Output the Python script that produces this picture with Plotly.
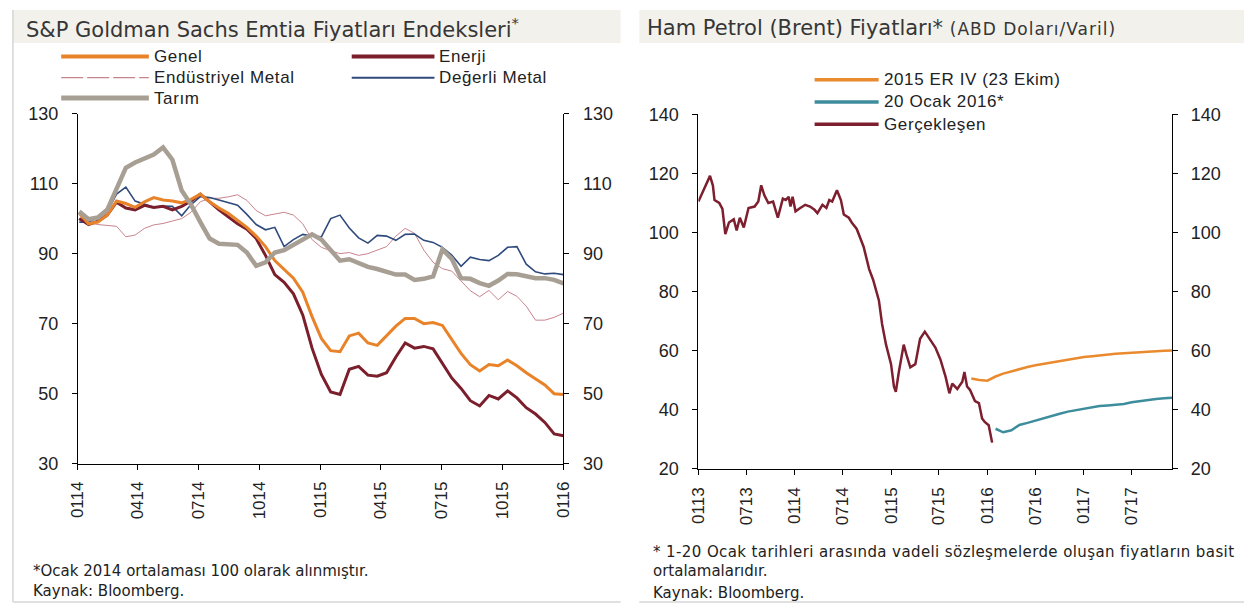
import pandas as pd
import plotly.graph_objects as go

W, H = 1254, 615


def px(x):
    return x / W


def py(y):
    return 1 - y / H


# ---------------- Left chart: S&P GSCI sub-indices (Jan 2014 = 100), biweekly ----------------
idx_dates = pd.date_range("2014-01-03", periods=53, freq="14D")

genel = [101.5, 98.5, 99.0, 101.0, 105.0, 104.3, 103.2, 104.8, 106.0, 105.3, 105.0, 104.5, 105.5,
         107.0, 104.8, 103.0, 101.5, 99.5, 97.5, 95.0, 92.0, 88.0, 85.5, 83.0, 79.0, 72.0, 65.8,
         62.3, 62.0, 66.5, 67.3, 64.5, 63.8, 66.5, 69.3, 71.5, 71.5, 70.0, 70.3, 69.5, 65.3, 61.5,
         58.3, 56.5, 58.3, 58.0, 59.6, 58.0, 56.0, 54.2, 52.5, 50.0, 49.8]

enerji = [100.0, 98.3, 99.3, 101.0, 104.7, 103.0, 102.5, 103.8, 103.2, 103.5, 102.5, 103.5, 105.0,
          107.0, 104.8, 102.5, 100.5, 98.5, 97.0, 94.3, 89.5, 84.0, 81.8, 78.5, 72.5, 63.0, 55.5,
          50.5, 49.8, 57.0, 57.8, 55.3, 55.0, 56.0, 60.5, 64.5, 63.0, 63.5, 62.8, 58.5, 54.5, 51.5,
          48.0, 46.5, 49.5, 48.5, 50.8, 48.8, 46.0, 44.2, 41.8, 38.5, 38.0]

endustriyel = [99.6, 98.8, 98.3, 98.0, 97.8, 94.8, 95.3, 97.2, 98.2, 98.6, 99.4, 100.0, 101.8,
               104.8, 105.8, 105.8, 106.2, 106.8, 105.2, 102.3, 100.8, 101.4, 101.8, 101.0, 98.5,
               94.0, 91.8, 90.8, 90.0, 90.3, 89.5, 90.0, 91.0, 92.0, 95.0, 97.2, 95.8, 91.0, 87.5,
               85.7, 85.0, 82.2, 79.4, 77.7, 79.5, 76.8, 79.2, 77.8, 75.0, 71.0, 71.0, 71.8, 73.0]

degerli = [99.0, 99.0, 100.3, 102.0, 107.0, 109.0, 105.0, 104.2, 103.2, 103.6, 103.5, 100.8, 104.0,
           106.3, 106.0, 105.3, 104.5, 103.8, 101.2, 98.3, 96.8, 97.5, 92.0, 94.0, 95.5, 95.0, 94.8,
           100.0, 101.0, 97.3, 94.5, 93.0, 95.2, 95.0, 93.8, 95.5, 95.6, 93.8, 93.2, 91.8, 89.6,
           86.4, 89.0, 88.3, 88.0, 89.5, 91.8, 92.0, 87.0, 84.8, 84.2, 84.4, 84.0]

tarim = [102.0, 99.8, 100.3, 102.5, 108.5, 114.5, 116.0, 117.0, 118.3, 120.3, 116.8, 108.0, 104.0,
         99.0, 94.3, 92.8, 92.8, 92.5, 90.3, 86.5, 87.5, 90.3, 91.0, 92.4, 93.8, 95.5, 94.0, 91.0,
         88.0, 88.4, 87.3, 86.2, 85.6, 84.8, 84.0, 84.0, 82.5, 82.8, 83.5, 91.2, 88.5, 83.0, 82.8,
         81.6, 80.8, 82.3, 84.2, 84.1, 83.6, 83.0, 83.0, 82.5, 81.5]

left_ticks = pd.date_range("2014-01-01", "2016-01-01", freq="QS")
left_ticktext = [d.strftime("%m%y") for d in left_ticks]
left_yticks = [30, 50, 70, 90, 110, 130]

# ---------------- Right chart: Brent (USD/bbl) ----------------
brent_dates = ["2013-01-01", "2013-01-19", "2013-02-14", "2013-02-25", "2013-03-03", "2013-03-21",
               "2013-04-02", "2013-04-13", "2013-04-27", "2013-05-15", "2013-05-26", "2013-06-07",
               "2013-06-22", "2013-07-10", "2013-08-02", "2013-08-16", "2013-08-27", "2013-09-08",
               "2013-09-23", "2013-10-11", "2013-10-29", "2013-11-17", "2013-11-28", "2013-12-09",
               "2013-12-16", "2013-12-24", "2014-01-04", "2014-01-22", "2014-02-10", "2014-02-28",
               "2014-03-17", "2014-03-28", "2014-04-16", "2014-05-01", "2014-05-12", "2014-05-23",
               "2014-06-10", "2014-06-25", "2014-07-06", "2014-07-25", "2014-08-05", "2014-08-24",
               "2014-09-08", "2014-09-19", "2014-10-10", "2014-10-25", "2014-11-16", "2014-11-28",
               "2014-12-13", "2015-01-01", "2015-01-12", "2015-01-19", "2015-01-31", "2015-02-18",
               "2015-02-28", "2015-03-15", "2015-04-03", "2015-04-21", "2015-05-09", "2015-05-27",
               "2015-06-18", "2015-07-07", "2015-07-27", "2015-08-10", "2015-08-21", "2015-09-09",
               "2015-09-28", "2015-10-06", "2015-10-16", "2015-10-27", "2015-11-15", "2015-11-30",
               "2015-12-12", "2015-12-22", "2016-01-06", "2016-01-19"]
brent_actual = [110.5, 114.3, 119.2, 115.9, 111.0, 110.0, 108.0, 99.5, 103.4, 104.5, 100.7, 105.0,
                101.7, 108.3, 108.8, 110.5, 116.0, 112.6, 110.0, 110.5, 105.0, 111.5, 111.0, 112.1,
                108.8, 112.1, 107.2, 108.3, 109.4, 108.8, 107.7, 106.6, 109.4, 108.3, 111.0, 110.5,
                114.3, 111.0, 106.1, 105.0, 103.4, 101.2, 97.4, 95.2, 87.6, 84.0, 77.0, 69.0,
                62.0, 55.4, 47.8, 46.0, 53.0, 62.0, 58.7, 54.3, 55.4, 64.0, 66.4, 64.0,
                61.0, 57.0, 51.0, 45.5, 48.8, 47.0, 49.4, 52.7, 47.8, 46.7, 42.9, 42.2,
                37.0, 35.8, 34.7, 28.8]

er_dates = pd.date_range("2015-11-01", "2017-12-01", freq="MS")
er_iv = [50.5, 50.0, 49.8, 51.2, 52.2, 53.0, 53.8, 54.4, 55.0, 55.5, 56.0, 56.5, 57.0, 57.4,
         57.8, 58.1, 58.4, 58.7, 58.9, 59.1, 59.3, 59.5, 59.6, 59.8, 59.9, 60.0]

jan_dates = pd.date_range("2016-02-01", "2017-12-01", freq="MS")
jan_2016 = [33.5, 32.3, 33.0, 34.8, 35.5, 36.3, 37.2, 38.0, 38.6, 39.3, 39.8, 40.2, 40.7, 41.2,
            41.4, 41.6, 41.9, 42.5, 42.9, 43.3, 43.6, 43.8, 44.0]

right_ticks = pd.date_range("2013-01-01", "2017-07-01", freq="6MS")
right_ticktext = [d.strftime("%m%y") for d in right_ticks]
right_yticks = [20, 40, 60, 80, 100, 120, 140]

# ---------------- Styles ----------------
C_GENEL = "#E8832A"
C_ENERJI = "#7A1F2B"
C_ENDUS = "#C8838D"
C_DEGERLI = "#2F4A7C"
C_TARIM = "#A89F94"
C_ER = "#EA8A2E"
C_JAN = "#3E8D9C"
C_ACT = "#7D1F2E"

ARIAL = "Liberation Sans, Arial, sans-serif"
GOTHIC = "DejaVu Sans, Verdana, sans-serif"
YTICKFONT = dict(family=ARIAL, size=18, color="#222222")
XTICKFONT = dict(family=ARIAL, size=17, color="#222222")

fig = go.Figure()

# Left chart traces
fig.add_trace(go.Scatter(x=idx_dates, y=endustriyel, mode="lines", name="Endüstriyel Metal",
                         line=dict(color=C_ENDUS, width=1), xaxis="x", yaxis="y"))
fig.add_trace(go.Scatter(x=idx_dates, y=degerli, mode="lines", name="Değerli Metal",
                         line=dict(color=C_DEGERLI, width=1.6), xaxis="x", yaxis="y"))
fig.add_trace(go.Scatter(x=idx_dates, y=enerji, mode="lines", name="Enerji",
                         line=dict(color=C_ENERJI, width=3), xaxis="x", yaxis="y"))
fig.add_trace(go.Scatter(x=idx_dates, y=genel, mode="lines", name="Genel",
                         line=dict(color=C_GENEL, width=3), xaxis="x", yaxis="y"))
fig.add_trace(go.Scatter(x=idx_dates, y=tarim, mode="lines", name="Tarım",
                         line=dict(color=C_TARIM, width=4.5), xaxis="x", yaxis="y"))
# invisible carrier for the right-side mirrored axis
fig.add_trace(go.Scatter(x=idx_dates, y=tarim, mode="lines", opacity=0, hoverinfo="skip",
                         line=dict(width=0), xaxis="x", yaxis="y2", showlegend=False))

# Right chart traces
fig.add_trace(go.Scatter(x=er_dates, y=er_iv, mode="lines", name="2015 ER IV (23 Ekim)",
                         line=dict(color=C_ER, width=2.5), xaxis="x2", yaxis="y3"))
fig.add_trace(go.Scatter(x=jan_dates, y=jan_2016, mode="lines", name="20 Ocak 2016*",
                         line=dict(color=C_JAN, width=2.5), xaxis="x2", yaxis="y3"))
fig.add_trace(go.Scatter(x=brent_dates, y=brent_actual, mode="lines", name="Gerçekleşen",
                         line=dict(color=C_ACT, width=2.5), xaxis="x2", yaxis="y3"))
fig.add_trace(go.Scatter(x=brent_dates, y=brent_actual, mode="lines", opacity=0, hoverinfo="skip",
                         line=dict(width=0), xaxis="x2", yaxis="y4", showlegend=False))

axis_common = dict(showline=True, linecolor="black", linewidth=1, ticks="outside", ticklen=5,
                   tickcolor="black", tickwidth=1, showgrid=False, zeroline=False, fixedrange=True)

fig.update_layout(
    width=W, height=H,
    margin=dict(l=0, r=0, t=0, b=0),
    paper_bgcolor="white", plot_bgcolor="white",
    showlegend=False,
    xaxis=dict(domain=[px(70), px(563)], range=["2014-01-01", "2016-01-01"], anchor="y",
               tickvals=list(left_ticks), ticktext=left_ticktext, tickangle=-90,
               tickfont=XTICKFONT, ticklabelstandoff=5, **axis_common),
    yaxis=dict(domain=[py(469), py(107)], range=[30, 130], tickvals=left_yticks,
               anchor="x", tickfont=YTICKFONT, ticklabelstandoff=10, **axis_common),
    yaxis2=dict(overlaying="y", side="right", range=[30, 130], tickvals=left_yticks,
                anchor="x", tickfont=YTICKFONT, ticklabelstandoff=10, **axis_common),
    xaxis2=dict(domain=[px(700), px(1181)], range=["2013-01-01", "2017-12-01"], anchor="y3",
                tickvals=list(right_ticks), ticktext=right_ticktext, tickangle=-90,
                tickfont=XTICKFONT, ticklabelstandoff=6, **axis_common),
    yaxis3=dict(domain=[py(474), py(108)], range=[20, 140], tickvals=right_yticks,
                anchor="x2", tickfont=YTICKFONT, ticklabelstandoff=10, **axis_common),
    yaxis4=dict(overlaying="y3", side="right", range=[20, 140], tickvals=right_yticks,
                anchor="x2", tickfont=YTICKFONT, ticklabelstandoff=9, **axis_common),
)

shapes = []
annotations = []

# Header bands and panel frames
shapes.append(dict(type="rect", xref="paper", yref="paper", x0=px(4), x1=px(621), y0=py(34), y1=py(0),
                   fillcolor="#F3F1EB", line=dict(width=0), layer="below"))
shapes.append(dict(type="rect", xref="paper", yref="paper", x0=px(640), x1=px(1254), y0=py(34), y1=py(0),
                   fillcolor="#F3F1EB", line=dict(width=0), layer="below"))
shapes.append(dict(type="line", xref="paper", yref="paper", x0=px(4), x1=px(4), y0=py(612), y1=py(0),
                   line=dict(color="#D6D6D6", width=1.5)))
shapes.append(dict(type="line", xref="paper", yref="paper", x0=px(4), x1=px(621), y0=py(612), y1=py(612),
                   line=dict(color="#D6D6D6", width=1.5)))
shapes.append(dict(type="line", xref="paper", yref="paper", x0=px(640), x1=px(1254), y0=py(612), y1=py(612),
                   line=dict(color="#D6D6D6", width=1.5)))

LEGFONT = dict(family=ARIAL, size=17, color="#222222")


def leg(x0, x1, y, color, width, label, dash="solid"):
    shapes.append(dict(type="line", xref="paper", yref="paper", x0=px(x0), x1=px(x1), y0=py(y), y1=py(y),
                       line=dict(color=color, width=width, dash=dash)))
    annotations.append(dict(xref="paper", yref="paper", x=px(x1 + 3), y=py(y), showarrow=False,
                            text="<span style='letter-spacing:0.6px'>" + label + "</span>",
                            xanchor="left", yanchor="middle", font=LEGFONT))


# Left legend
leg(53, 142, 48, C_GENEL, 4, "Genel")
leg(53, 142, 70, C_ENDUS, 1.2, "Endüstriyel Metal", dash="22px,4px")
leg(53, 142, 91, C_TARIM, 5, "Tarım")
leg(348, 432, 48, C_ENERJI, 4, "Enerji")
leg(348, 432, 70, C_DEGERLI, 2, "Değerli Metal")

# Right legend
leg(818, 883, 72, C_ER, 3.5, "2015 ER IV (23 Ekim)")
leg(818, 883, 95, C_JAN, 3.5, "20 Ocak 2016*")
leg(818, 883, 118, C_ACT, 3.5, "Gerçekleşen")

# Titles
annotations.append(dict(xref="paper", yref="paper", x=px(15), y=py(19), showarrow=False,
                        xanchor="left", yanchor="middle",
                        text="S&P Goldman Sachs Emtia Fiyatları Endeksleri<sup>*</sup>",
                        font=dict(family=GOTHIC, size=21, color="#363636")))
annotations.append(dict(xref="paper", yref="paper", x=px(646), y=py(19), showarrow=False,
                        xanchor="left", yanchor="middle",
                        text="Ham Petrol (Brent) Fiyatları* "
                             "<span style='font-size:17px;letter-spacing:1px'>(ABD Doları/Varil)</span>",
                        font=dict(family=GOTHIC, size=21, color="#363636")))

# Footnotes
FOOT = dict(family=GOTHIC, size=15, color="#222222")
for x, y, t in [(22, 580, "*Ocak 2014 ortalaması 100 olarak alınmıştır."),
                (22, 601, "Kaynak: Bloomberg."),
                (652, 560, "<span style='letter-spacing:0.4px'>* 1-20 Ocak tarihleri arasında vadeli "
                           "sözleşmelerde oluşan fiyatların basit</span>"),
                (652, 580, "ortalamalarıdır."),
                (652, 603, "Kaynak: Bloomberg.")]:
    annotations.append(dict(xref="paper", yref="paper", x=px(x), y=py(y), text=t, showarrow=False,
                            xanchor="left", yanchor="middle", font=FOOT))

fig.update_layout(shapes=shapes, annotations=annotations)

# remove the default 8px page margin so the 1254x615 figure fills the window exactly
fig.write_html("out.html", config={"displayModeBar": False},
               post_script="document.body.style.margin='0px';")
